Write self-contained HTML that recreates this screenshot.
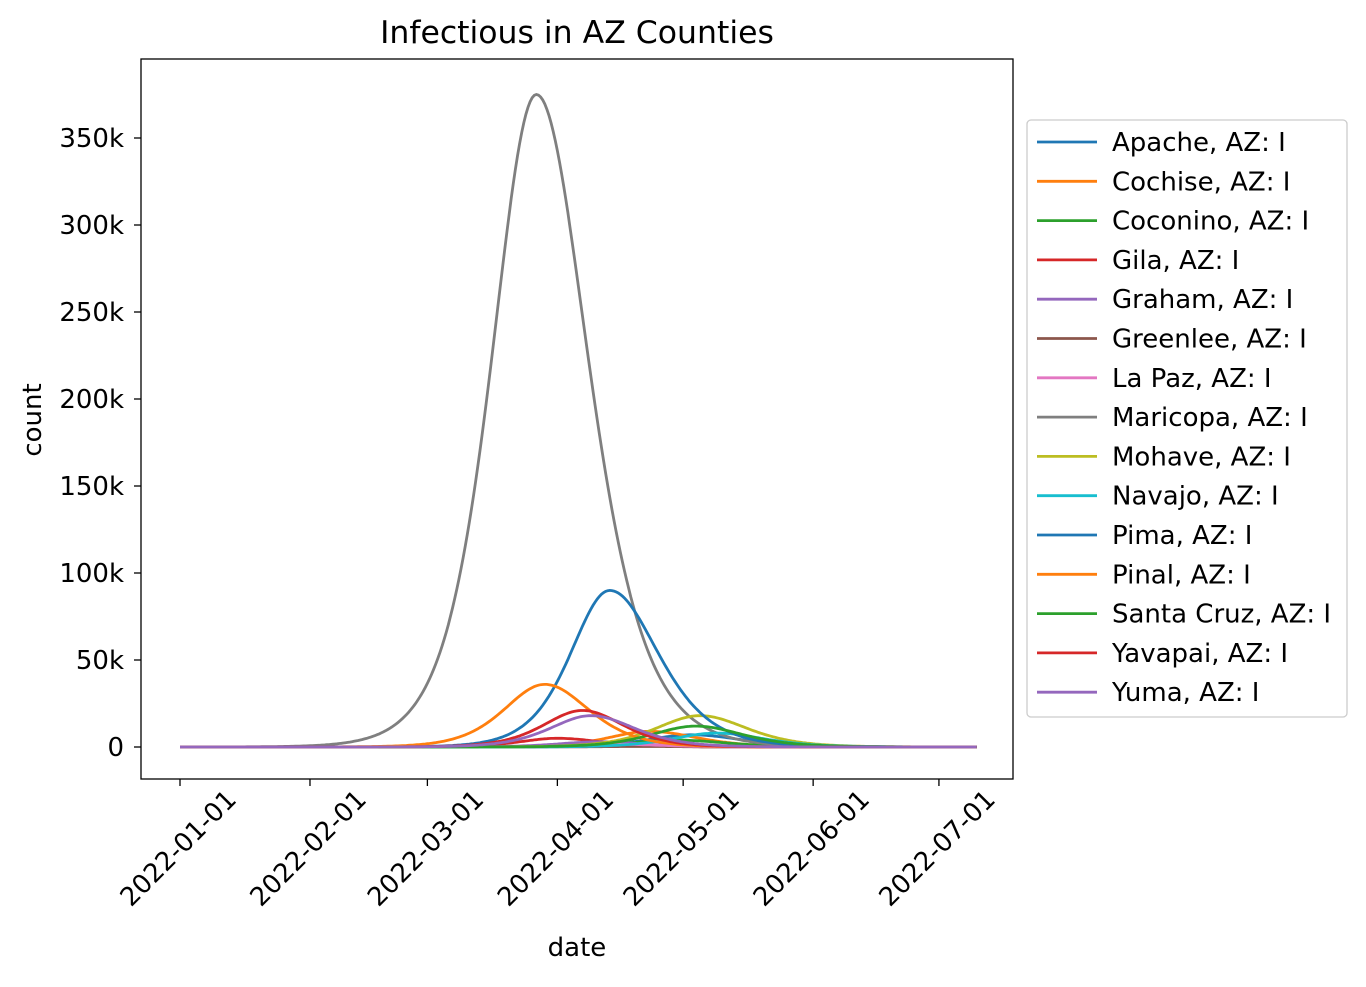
<!DOCTYPE html>
<html><head><meta charset="utf-8"><style>
html,body{margin:0;padding:0;background:#fff}
svg text{font-family:"DejaVu Sans","Liberation Sans",sans-serif;fill:#000}
</style></head><body>
<svg id="s" width="1366" height="982" xmlns="http://www.w3.org/2000/svg">
<rect width="1366" height="982" fill="#fff"/>
<text x="577" y="43" font-size="31.5" text-anchor="middle">Infectious in AZ Counties</text>
<text x="577" y="956" font-size="26" text-anchor="middle">date</text>
<text transform="translate(41,420) rotate(-90)" font-size="26" text-anchor="middle">count</text>
<g id="curves"></g>
<rect x="141" y="59" width="872" height="720" fill="none" stroke="#000" stroke-width="1.3"/>
<g id="ticks" font-size="26"></g>
<g id="legend">
<rect x="1027" y="120" width="320" height="597" rx="4" fill="#fff" stroke="#ccc" stroke-width="1.3"/>
</g>
</svg>
<script>
var X=function(t){return 180+t*4.193;}, Y=function(v){return 747-v*0.00174;};
var ns="http://www.w3.org/2000/svg";
function el(n,a,p,txt){var e=document.createElementNS(ns,n);for(var k in a)e.setAttribute(k,a[k]);if(txt!==undefined)e.textContent=txt;p.appendChild(e);return e;}
var T=document.getElementById('ticks');
[0,50,100,150,200,250,300,350].forEach(function(v){var y=Y(v*1000);
el('line',{x1:134,x2:141,y1:y,y2:y,stroke:'#000','stroke-width':1.3},T);
el('text',{x:124,y:y+9,'text-anchor':'end'},T,v==0?'0':v+'k');});
var dates=[['2022-01-01',0],['2022-02-01',31],['2022-03-01',59],['2022-04-01',90],['2022-05-01',120],['2022-06-01',151],['2022-07-01',181]];
dates.forEach(function(d){var x=X(d[1]);
el('line',{x1:x,x2:x,y1:779,y2:786,stroke:'#000','stroke-width':1.3},T);
el('text',{x:0,y:9,'text-anchor':'middle',transform:'translate('+(x-2)+',848) rotate(-45)'},T,d[0]);});
var C=['#1f77b4','#ff7f0e','#2ca02c','#d62728','#9467bd','#8c564b','#e377c2','#7f7f7f','#bcbd22','#17becf'];
var S=[['Apache',7000,122,14,16],['Cochise',9000,112,13,15],['Coconino',4000,118,14,16],['Gila',5000,90,12,14],['Graham',3000,100,13,14],
['Greenlee',300,110,14,15],['La Paz',1500,105,12,14],['Maricopa',375000,85,14.2,16.5],['Mohave',18000,124,14,15],['Navajo',8000,128,14,15],
['Pima',90000,102.5,12.5,15.5],['Pinal',36000,87,13,14],['Santa Cruz',12000,123,14,15],['Yavapai',21000,96,12.5,13],['Yuma',18000,98,13,14]];
var G=document.getElementById('curves'),L=document.getElementById('legend');
S.forEach(function(s,i){var d='';for(var t=0;t<=190;t+=0.5){var u=(t-s[2])/(t<s[2]?s[3]:s[4]);var c=Math.cosh(u);var v=s[1]/(c*c);
d+=(t==0?'M':'L')+X(t).toFixed(1)+','+Y(v).toFixed(1);}
var col=C[i%10];
el('path',{d:d,fill:'none',stroke:col,'stroke-width':2.8},G);
var y=142+i*39.3;
el('line',{x1:1037,x2:1097,y1:y,y2:y,stroke:col,'stroke-width':2.8},L);
el('text',{x:1112,y:y+9,'font-size':26},L,s[0]+', AZ: I');});
</script>
</body></html>
